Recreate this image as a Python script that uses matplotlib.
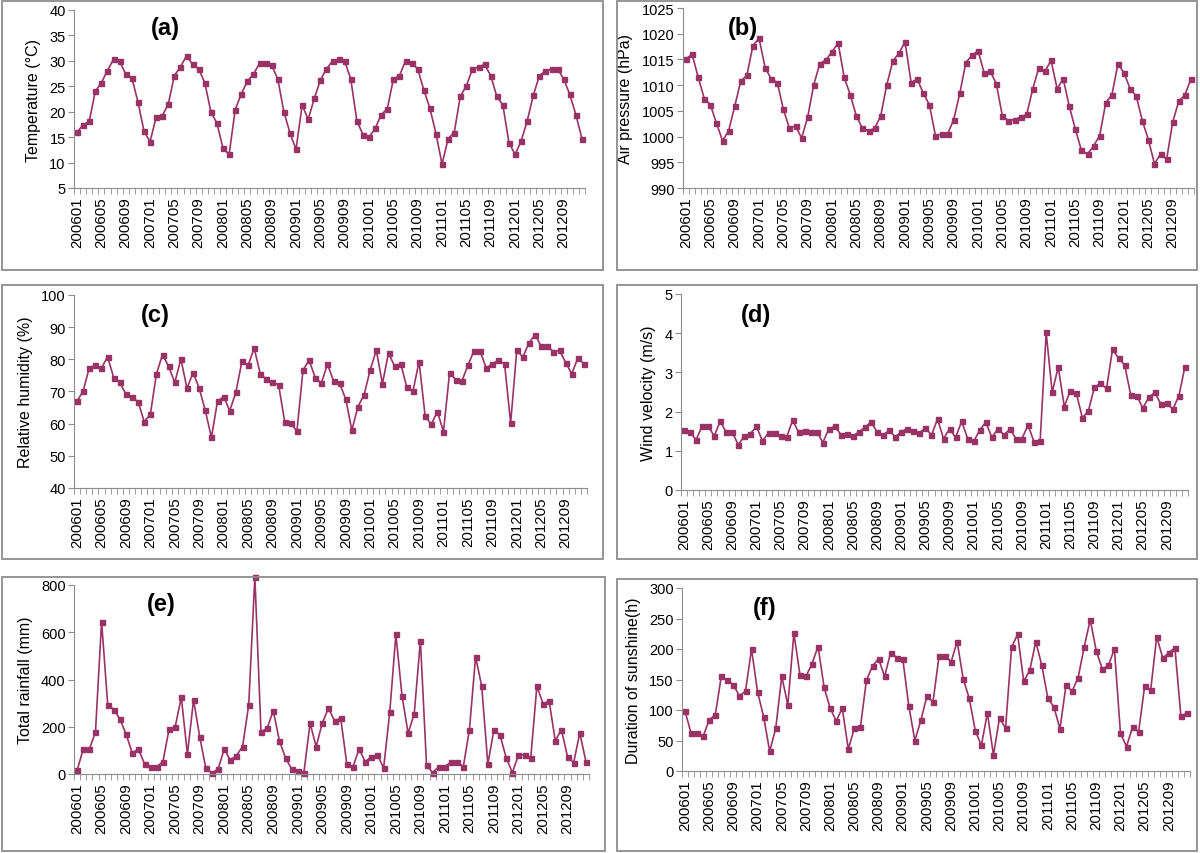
import matplotlib.pyplot as plt
import matplotlib.patches as patches
import numpy as np

# monthly values, 2006-01 .. 2012-12
temperature = [16.0, 17.4, 18.1, 24.0, 25.7, 28.1, 30.3, 29.9, 27.4, 26.7, 22.0, 16.2,
               14.1, 18.9, 19.2, 21.5, 27.1, 28.8, 31.0, 29.3, 28.4, 25.7, 20.0, 17.7,
               12.8, 11.6, 20.4, 23.5, 26.0, 27.4, 29.5, 29.5, 29.1, 26.4, 20.0, 15.8,
               12.6, 21.3, 18.5, 22.6, 26.2, 28.4, 30.0, 30.3, 29.9, 26.4, 18.2, 15.5,
               15.0, 16.7, 19.4, 20.6, 26.4, 27.1, 30.0, 29.6, 28.4, 24.3, 20.7, 15.7,
               9.7, 14.7, 15.9, 23.0, 25.1, 28.4, 28.8, 29.3, 27.1, 23.0, 21.3, 13.9,
               11.6, 14.2, 18.2, 23.2, 27.1, 28.0, 28.4, 28.4, 26.4, 23.4, 19.4, 14.7]

pressure = [1015.1, 1016.0, 1011.5, 1007.4, 1006.2, 1002.6, 999.2, 1001.1, 1005.9, 1010.8, 1011.9, 1017.7,
            1019.1, 1013.4, 1011.2, 1010.5, 1005.3, 1001.6, 1002.1, 999.7, 1003.8, 1010.1, 1014.2, 1014.9,
            1016.5, 1018.2, 1011.5, 1008.1, 1004.0, 1001.6, 1001.1, 1001.6, 1004.0, 1010.1, 1014.7, 1016.2,
            1018.4, 1010.5, 1011.2, 1008.4, 1006.2, 1000.2, 1000.5, 1000.5, 1003.3, 1008.4, 1014.4, 1015.8,
            1016.7, 1012.4, 1012.7, 1010.3, 1004.0, 1003.1, 1003.3, 1003.8, 1004.3, 1009.3, 1013.4, 1012.7,
            1014.8, 1009.3, 1011.2, 1005.9, 1001.4, 997.3, 996.6, 998.2, 1000.2, 1006.6, 1008.1, 1014.1,
            1012.4, 1009.3, 1007.9, 1003.1, 999.4, 994.7, 996.6, 995.6, 1002.8, 1006.9, 1008.1, 1011.2]

humidity = [67.0, 70.1, 77.4, 78.1, 77.3, 80.8, 74.3, 72.8, 69.2, 68.2, 66.8, 60.6,
            62.9, 75.5, 81.5, 77.8, 72.8, 80.1, 71.0, 75.9, 71.0, 64.1, 55.7, 67.0,
            68.4, 64.0, 69.7, 79.4, 78.1, 83.5, 75.5, 73.8, 72.8, 72.1, 60.6, 60.2,
            57.6, 76.7, 79.7, 74.3, 72.6, 78.5, 73.3, 72.5, 67.6, 58.0, 65.3, 69.0,
            76.7, 82.8, 72.4, 82.0, 77.8, 78.6, 71.3, 70.1, 79.3, 62.3, 59.8, 63.7,
            57.5, 75.9, 73.7, 73.2, 78.1, 82.7, 82.5, 77.3, 78.6, 79.7, 78.6, 60.2,
            82.8, 80.7, 85.1, 87.7, 84.0, 84.2, 82.4, 82.8, 79.0, 75.5, 80.4, 78.6]

wind = [1.53, 1.47, 1.28, 1.63, 1.63, 1.38, 1.75, 1.47, 1.47, 1.15, 1.38, 1.44,
        1.62, 1.25, 1.46, 1.46, 1.38, 1.35, 1.78, 1.47, 1.50, 1.47, 1.49, 1.21,
        1.56, 1.62, 1.41, 1.43, 1.37, 1.49, 1.60, 1.74, 1.47, 1.41, 1.52, 1.35,
        1.49, 1.56, 1.50, 1.45, 1.59, 1.40, 1.81, 1.31, 1.56, 1.34, 1.75, 1.31,
        1.24, 1.53, 1.73, 1.34, 1.56, 1.41, 1.55, 1.31, 1.31, 1.66, 1.22, 1.24,
        4.02, 2.49, 3.14, 2.13, 2.53, 2.47, 1.84, 2.02, 2.62, 2.72, 2.59, 3.59,
        3.36, 3.19, 2.43, 2.41, 2.09, 2.36, 2.49, 2.19, 2.21, 2.06, 2.41, 3.15]

rainfall = [15, 105, 105, 177, 645, 293, 273, 232, 168, 89, 105, 44,
            31, 31, 52, 189, 199, 325, 83, 314, 158, 25, 4, 21,
            105, 59, 78, 116, 293, 835, 178, 194, 268, 141, 68, 21,
            11, 6, 215, 116, 216, 278, 225, 237, 42, 31, 105, 52,
            73, 81, 25, 261, 591, 331, 172, 256, 565, 37, 6, 31,
            31, 52, 52, 31, 188, 496, 372, 42, 188, 163, 68, 6,
            81, 81, 68, 372, 298, 308, 141, 188, 73, 48, 174, 52]

sunshine = [98, 62, 62, 57, 84, 92, 155, 149, 141, 123, 131, 200,
            129, 89, 32, 70, 155, 108, 226, 158, 155, 176, 204, 137,
            103, 82, 103, 36, 70, 72, 149, 172, 184, 155, 194, 186,
            184, 107, 50, 83, 123, 113, 188, 189, 179, 212, 151, 119,
            66, 42, 95, 26, 87, 70, 203, 224, 147, 165, 212, 173,
            119, 105, 69, 141, 131, 153, 203, 248, 197, 167, 173, 200,
            62, 40, 72, 64, 139, 133, 220, 185, 194, 202, 90, 95]

months = [str(y) + '%02d' % m for y in range(2006, 2013) for m in range(1, 13)]

series = [temperature, pressure, humidity, wind, rainfall, sunshine]
ylabels = ['Temperature (\u00b0C)', 'Air pressure (hPa)', 'Relative humidity (%)',
           'Wind velocity (m/s)', 'Total rainfall (mm)', 'Duration of sunshine(h)']
letters = ['(a)', '(b)', '(c)', '(d)', '(e)', '(f)']
yticks = [np.arange(5, 41, 5), np.arange(990, 1026, 5), np.arange(40, 101, 10),
          np.arange(0, 6, 1), np.arange(0, 801, 200), np.arange(0, 301, 50)]

W, H = 1200, 854
plt.rcParams['font.family'] = ['Liberation Sans', 'DejaVu Sans']
fig = plt.figure(figsize=(12, 8.54), dpi=100)

# axes boxes in pixels: left, right, top, bottom
boxes = [(74, 585, 11, 189), (683, 1194, 9, 189),
         (74, 587, 296, 489), (681, 1188, 295, 491),
         (74, 589, 586, 775), (682, 1190, 589, 772)]
# panel frames in pixels: left, top, right, bottom
frames = [(2, 2, 603, 271), (617, 2, 1197, 271),
          (2, 286, 603, 560), (617, 286, 1197, 560),
          (2, 578, 605, 852), (617, 580, 1197, 852)]
# centre of the panel letters
letter_pos = [(165, 29), (743, 29), (155, 316), (756, 316), (161, 605), (765, 608)]

color = '#993366'
grey = '#8c8c8c'
x = np.arange(len(months))

for i in range(6):
    # grey frame round each panel
    fl, ft, fr, fb = frames[i]
    fig.patches.append(patches.Rectangle((fl / W, 1 - fb / H), (fr - fl) / W, (fb - ft) / H,
                                         transform=fig.transFigure, fill=False,
                                         edgecolor=grey, linewidth=1.3, zorder=5))
    l, r, t, b = boxes[i]
    ax = fig.add_axes([l / W, 1 - b / H, (r - l) / W, (b - t) / H])
    ax.plot(x, series[i], color=color, linewidth=1.2, marker='s', markersize=3.6,
            clip_on=False)
    ax.set_xlim(-0.5, 83.5)
    ax.set_ylim(yticks[i][0], yticks[i][-1])
    ax.set_yticks(yticks[i])
    ax.tick_params(axis='y', labelsize=10.5, length=4, color=grey, pad=2)
    # labels every 4 months, ticks between every month
    ax.set_xticks(x[::4])
    ax.set_xticklabels(months[::4], rotation=90)
    ax.set_xticks(np.arange(-0.5, 84, 1), minor=True)
    ax.tick_params(axis='x', which='major', length=0, labelsize=10.8, pad=6)
    ax.tick_params(axis='x', which='minor', length=4, color=grey)
    ax.spines['top'].set_visible(False)
    ax.spines['right'].set_visible(False)
    ax.spines['left'].set_color(grey)
    ax.spines['bottom'].set_color(grey)
    ax.set_ylabel(ylabels[i], fontsize=11.5, labelpad=6)
    lx, ly = letter_pos[i]
    fig.text(lx / W, 1 - ly / H, letters[i], fontsize=17, fontweight='bold',
             ha='center', va='center')

plt.savefig('out.png', dpi=100)
